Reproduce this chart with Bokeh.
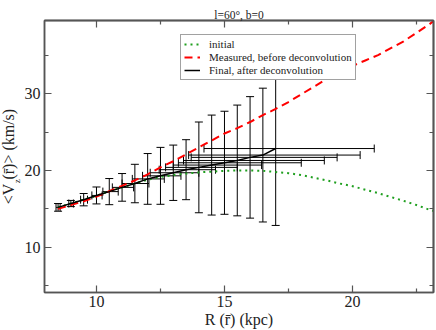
from bokeh.plotting import figure
from bokeh.models import (LinearAxis, FixedTicker, Whisker, ColumnDataSource, Legend,
                          LegendItem, TeeHead, Range1d, Title)
from bokeh.embed import file_html
from bokeh.resources import INLINE

# ---- data ----
R_grid = [8.5, 9.0, 9.5, 10.0, 10.5, 11.0, 11.5, 12.0, 12.5, 13.0, 13.5, 14.0, 14.5, 15.0,
          15.5, 16.0, 16.5, 17.0, 17.5, 18.0, 18.5, 19.0, 19.5, 20.0, 20.5, 21.0, 21.5,
          22.0, 22.5, 23.0, 23.2]
V_initial = [15.2, 15.7, 16.2, 16.7, 17.3, 17.8, 18.3, 18.8, 19.15, 19.4, 19.6, 19.75, 19.85,
             19.95, 20.0, 20.0, 19.95, 19.8, 19.65, 19.4, 19.05, 18.7, 18.3, 17.95, 17.5,
             17.05, 16.55, 16.05, 15.5, 14.9, 14.7]
V_measured = [15.0, 15.5, 16.0, 16.6, 17.3, 18.0, 18.7, 19.5, 20.4, 21.2, 22.1, 23.0, 23.9,
              24.8, 25.5, 26.3, 27.2, 28.0, 28.9, 29.9, 30.9, 31.9, 32.8, 33.6, 34.3, 35.0,
              35.9, 36.8, 37.9, 39.0, 39.5]

R_final = [8.5, 9.0, 9.5, 10.0, 10.5, 11.0, 11.5, 12.0, 12.5, 13.0, 13.5, 14.0, 14.5, 15.0,
           15.5, 16.0, 16.5, 17.0]
V_final = [15.2, 15.7, 16.2, 16.75, 17.25, 17.8, 18.3, 18.9, 19.3, 19.7, 20.1, 20.4, 20.7,
           21.0, 21.3, 21.7, 22.0, 22.85]
V_err = [0.5, 0.4, 0.8, 1.1, 1.7, 1.8, 2.5, 3.3, 3.7, 3.6, 3.9, 5.9, 6.5, 6.7, 7.2, 7.9,
         8.7, 10.0]
R_lo = [8.42, 8.92, 9.38, 9.82, 10.25, 10.62, 11.0, 11.4, 11.8, 12.1, 12.45, 12.7, 13.0,
        13.2, 13.4, 13.7, 13.6, 14.2]
R_hi = [8.58, 9.1, 9.65, 10.22, 10.85, 11.45, 12.05, 12.65, 13.3, 14.0, 14.65, 15.5, 16.45,
        18.0, 18.9, 19.4, 20.3, 20.85]

x_major = [10, 15, 20]
x_minor = [12.5, 17.5, 22.5]
y_major = [10, 20, 30]
y_minor = [5, 15, 25, 35]

FONT = "Liberation Serif"
AX = "#555555"
TXT = "#222222"
NB = "\u00a0"

p = figure(width=436, height=330, output_backend="svg", toolbar_location=None,
           x_range=Range1d(7.97, 23.165), y_range=Range1d(4.13, 39.5),
           min_border_left=44, min_border_right=3, min_border_top=20, min_border_bottom=37)
p.xgrid.visible = False
p.ygrid.visible = False
p.outline_line_color = AX
p.outline_line_width = 1.5
p.background_fill_color = "white"

# title
p.title.text = "l=60°, b=0"
p.title.text_font = FONT
p.title.text_font_size = "11.5px"
p.title.text_font_style = "normal"
p.title.text_color = TXT
p.title.align = "center"
p.title.standoff = 0
p.title.offset = 0

def base_axis(ax):
    ax.axis_line_color = AX
    ax.axis_line_width = 1.5
    ax.major_tick_line_color = AX
    ax.minor_tick_line_color = AX
    ax.major_tick_line_width = 1.2
    ax.minor_tick_line_width = 1.2
    ax.major_tick_out = 0
    ax.minor_tick_out = 0

def label_axis(ax, major, minor):
    base_axis(ax)
    ax.ticker = FixedTicker(ticks=major, minor_ticks=minor)
    ax.major_tick_in = 7
    ax.minor_tick_in = 4
    ax.major_label_text_font = FONT
    ax.major_label_text_font_size = "16px"
    ax.major_label_text_color = TXT
    ax.axis_label_text_font = FONT
    ax.axis_label_text_font_size = "16px"
    ax.axis_label_text_font_style = "normal"
    ax.axis_label_text_color = TXT

def bare_axis(ticks, length):
    ax = LinearAxis()
    base_axis(ax)
    ax.axis_label = None
    ax.ticker = FixedTicker(ticks=[], minor_ticks=ticks)
    ax.minor_tick_in = length
    ax.major_tick_in = 0
    ax.major_label_standoff = 0
    return ax

# x axis
label_axis(p.xaxis[0], x_major, x_minor)
p.xaxis[0].major_label_standoff = 3
p.xaxis[0].axis_label = "R (r\u0304) (kpc)"
p.xaxis[0].axis_label_standoff = 1

# y axis: the axis carries tick labels and the subscript "z"
label_axis(p.yaxis[0], y_major, y_minor)
p.yaxis[0].major_label_standoff = 4
p.yaxis[0].axis_label = "z" + NB * 22
p.yaxis[0].axis_label_text_font_size = "9px"
p.yaxis[0].axis_label_standoff = 0

# main part of the y label: a side title in the remaining left border
ylab = Title(text="<V" + NB + "(r\u0304)> (km/s)", align="center",
             vertical_align="middle", standoff=-19, offset=0)
ylab.text_font = FONT
ylab.text_font_size = "16px"
ylab.text_font_style = "normal"
ylab.text_color = TXT
p.add_layout(ylab, "left")

p.add_layout(bare_axis(x_major, 7), "above")
p.add_layout(bare_axis(x_minor, 4), "above")
p.add_layout(bare_axis(y_major, 7), "right")
p.add_layout(bare_axis(y_minor, 4), "right")

# ---- error bars ----
src = ColumnDataSource(dict(
    R=R_final, V=V_final,
    V_lo=[v - e for v, e in zip(V_final, V_err)],
    V_hi=[v + e for v, e in zip(V_final, V_err)],
    R_lo=R_lo, R_hi=R_hi))

def tee():
    return TeeHead(size=8, line_color="black", line_width=1)

vw = Whisker(source=src, base="R", lower="V_lo", upper="V_hi", dimension="height",
             line_color="black", line_width=1, lower_head=tee(), upper_head=tee())
hw = Whisker(source=src, base="V", lower="R_lo", upper="R_hi", dimension="width",
             line_color="black", line_width=1, lower_head=tee(), upper_head=tee())
p.add_layout(vw)
p.add_layout(hw)

# ---- curves ----
g = p.line(R_grid, V_initial, line_color="#1f9f1f", line_width=2, line_dash="2 4")
r = p.line(R_grid, V_measured, line_color="#ff0000", line_width=2, line_dash="8 5")
b = p.line(R_final, V_final, line_color="black", line_width=1.5)

legend = Legend(items=[LegendItem(label="initial", renderers=[g]),
                       LegendItem(label="Measured, before deconvolution", renderers=[r]),
                       LegendItem(label="Final, after deconvolution", renderers=[b])],
                location=(136, 212), orientation="vertical")
legend.label_text_font = FONT
legend.label_text_font_size = "11px"
legend.label_text_color = TXT
legend.label_height = 12
legend.glyph_height = 12
legend.glyph_width = 16
legend.label_standoff = 9
legend.spacing = 1
legend.padding = 3
legend.margin = 0
legend.border_line_color = "#444444"
legend.border_line_width = 1.5
legend.background_fill_color = "white"
legend.background_fill_alpha = 1.0
p.add_layout(legend)

open("out.html", "w").write(file_html(p, INLINE))
